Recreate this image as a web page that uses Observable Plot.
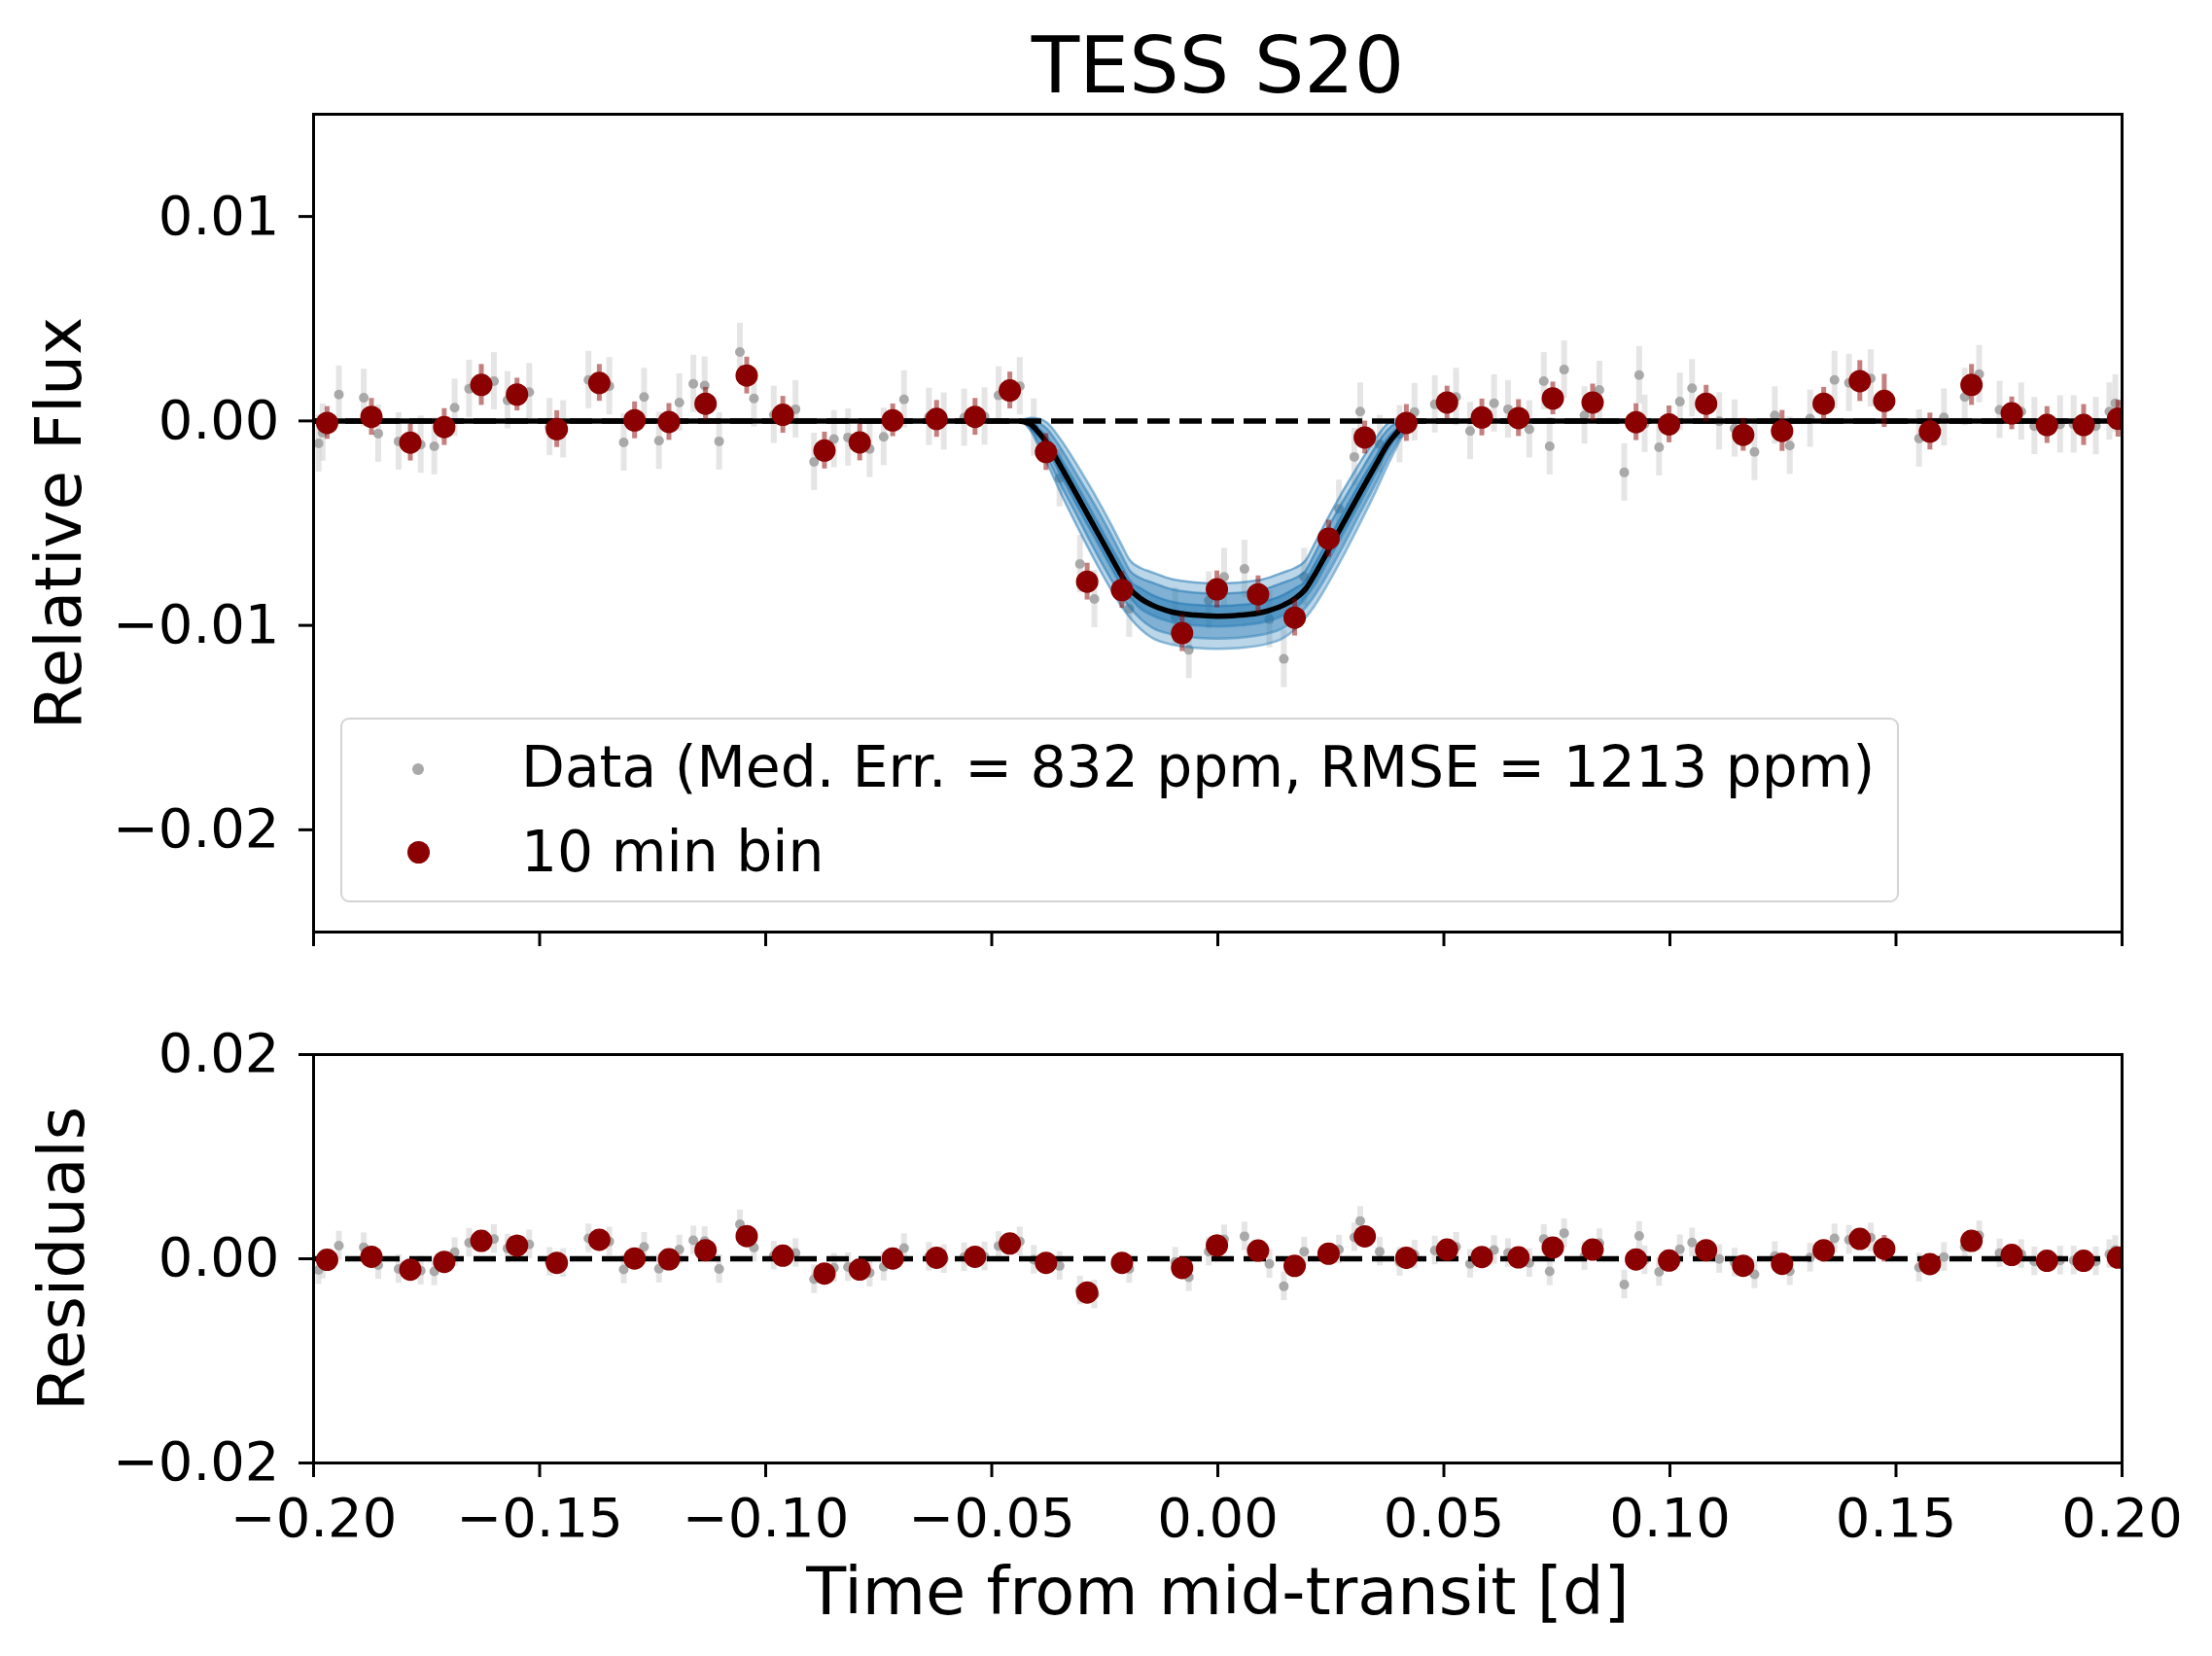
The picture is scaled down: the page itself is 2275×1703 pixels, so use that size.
<!DOCTYPE html>
<html><head><meta charset="utf-8">
<script src="https://cdn.jsdelivr.net/npm/d3@7"></script>
<script src="https://cdn.jsdelivr.net/npm/@observablehq/plot@0.6"></script>
<style>
body{margin:0;background:#fff;}
#wrap{position:relative;width:2275px;height:1703px;font-family:"DejaVu Sans",sans-serif;background:#fff;}
#top,#bot{position:absolute;left:0;}
#top{top:0}
#bot{top:1000px}
#legend{position:absolute;left:350px;top:738px;width:1603px;height:190px;border:2.7px solid #d4d4d4;border-radius:9px;background:rgba(255,255,255,0.8);box-sizing:border-box;z-index:5}
#legend .mk{position:absolute;border-radius:50%}
#legend .lt{position:absolute;left:184px;font-size:58.3px;line-height:58px;color:#000;white-space:nowrap}
</style>
</head><body>
<div id="wrap">
  <div id="top"></div>
  <div id="bot"></div>
  <div id="legend">
    <div class="mk" style="left:72px;top:45px;width:12px;height:12px;background:#a9a9a9"></div>
    <div class="lt" style="top:20px">Data (Med. Err. = 832 ppm, RMSE = 1213 ppm)</div>
    <div class="mk" style="left:67px;top:125px;width:23px;height:23px;background:#8b0000"></div>
    <div class="lt" style="top:107px">10 min bin</div>
  </div>
</div>
<script>
// ---------- data ----------
const xTicks = [-0.2,-0.15,-0.1,-0.05,0,0.05,0.1,0.15,0.2];
const yTicksTop = [-0.02,-0.01,0,0.01];
const yTicksBot = [-0.02,0,0.02];

// raw data (grey)
const gT = [-0.1989,-0.1980,-0.1944,-0.1889,-0.1857,-0.1812,-0.1763,-0.1733,-0.1688,-0.1656,
 -0.1601,-0.1571,-0.1523,-0.1478,-0.1448,-0.1392,-0.1346,-0.1314,-0.1269,-0.1236,
 -0.1191,-0.1160,-0.1135,-0.1103,-0.1057,-0.1026,-0.0982,-0.0934,-0.0893,-0.0849,
 -0.0818,-0.0770,-0.0739,-0.0694,-0.0639,-0.0606,-0.0561,-0.0516,-0.0485,-0.0438,
 -0.0407,-0.0350,-0.0305,-0.0273,-0.0196,-0.0094,-0.0064,-0.0020,0.0014,0.0059,
 0.0114,0.0146,0.0191,0.0268,0.0302,0.0315,0.0358,0.0402,0.0435,0.0480,
 0.0527,0.0558,0.0611,0.0642,0.0689,0.0721,0.0734,0.0766,0.0811,0.0844,
 0.0899,0.0932,0.0944,0.0976,0.1022,0.1049,0.1109,0.1143,0.1187,0.1232,
 0.1265,0.1310,0.1364,0.1396,0.1444,0.1551,0.1606,0.1652,0.1684,0.1729,
 0.1777,0.1806,0.1863,0.1893,0.1942,0.1972,0.1985];
const gF = [-0.0011,-0.00057,0.00129,0.00113,-0.00062,-0.0010,-0.00116,-0.00124,0.00065,0.00157,
 0.00194,0.00101,0.00141,-0.0003,-0.00041,0.0020,0.0017,-0.00105,0.00117,-0.00097,
 0.0009,0.00181,0.00173,-0.0010,0.00337,0.0011,0.0003,0.00057,-0.0020,-0.00089,
 -0.00081,-0.00137,-0.00078,0.00105,0.0002,-0.00003,0.00016,0.00022,0.00125,0.0017,
 -0.00032,-0.0028,-0.0070,-0.00871,-0.00919,-0.00957,-0.0112,-0.00878,-0.00763,-0.00724,
 -0.0097,-0.01164,-0.00763,-0.0043,-0.00176,0.00046,-0.00113,-0.00065,0.00043,0.00081,
 0.00117,-0.00049,0.00086,0.00057,-0.00041,0.00194,-0.00124,0.00251,0.00027,0.00152,
 -0.00252,0.00224,-0.00014,-0.00129,0.00094,0.0016,-0.00002,-0.00037,-0.00152,0.00027,
 -0.00121,0.00011,0.0020,0.00186,0.00208,-0.00086,0.00017,0.00117,0.00229,0.00054,
 0.00046,-0.00025,-0.00017,-0.00017,-0.00025,0.00046,0.00086];
const gR = [-0.0011,-0.00057,0.00129,0.00113,-0.00062,-0.0010,-0.00116,-0.00124,0.00065,0.00157,
 0.00194,0.00101,0.00141,-0.0003,-0.00041,0.0020,0.0017,-0.00105,0.00117,-0.00097,
 0.0009,0.00181,0.00173,-0.0010,0.00337,0.0011,0.0003,0.00057,-0.0020,-0.00089,
 -0.00081,-0.00137,-0.00078,0.00105,0.0002,-0.00003,0.00016,0.00022,0.00125,0.0017,
 -0.0001,-0.0007,-0.0031,-0.0035,-0.0010,-0.0003,-0.0018,0.0007,0.0019,0.0022,
 -0.0005,-0.0027,0.0007,0.0009,0.0021,0.0037,0.0007,-0.0003,0.0004,0.00081,
 0.00117,-0.00049,0.00086,0.00057,-0.00041,0.00194,-0.00124,0.00251,0.00027,0.00152,
 -0.00252,0.00224,-0.00014,-0.00129,0.00094,0.0016,-0.00002,-0.00037,-0.00152,0.00027,
 -0.00121,0.00011,0.0020,0.00186,0.00208,-0.00086,0.00017,0.00117,0.00229,0.00054,
 0.00046,-0.00025,-0.00017,-0.00017,-0.00025,0.00046,0.00086];
const gErr = 0.0014;

// 10 min bins (dark red)
const binT = [-0.1970,-0.1872,-0.1786,-0.1711,-0.1629,-0.1550,-0.1462,-0.1368,-0.1290,-0.1214,
 -0.1133,-0.1042,-0.0962,-0.0870,-0.0792,-0.0719,-0.0622,-0.0537,-0.0460,-0.0380,
 -0.0289,-0.0212,-0.0079,-0.0002,0.0089,0.0170,0.0245,0.0325,0.0417,0.0507,
 0.0584,0.0665,0.0741,0.0829,0.0925,0.0998,0.1080,0.1162,0.1248,0.1340,
 0.1420,0.1474,0.1575,0.1667,0.1756,0.1834,0.1915,0.1991];
const binF = [-0.0001,0.0002,-0.00106,-0.0003,0.00176,0.00129,-0.0004,0.00186,0.00003,-0.00005,
 0.00084,0.00222,0.0003,-0.00145,-0.00105,0.00003,0.0001,0.0002,0.00149,-0.00152,
 -0.00786,-0.00827,-0.01038,-0.00824,-0.00848,-0.00962,-0.00576,-0.00081,-0.0001,0.0009,
 0.00017,0.00014,0.0011,0.0009,-0.00006,-0.00017,0.00084,-0.00068,-0.00049,0.00084,
 0.00195,0.00098,-0.00052,0.00176,0.00037,-0.0002,-0.0002,0.00011];
const binR = [-0.0001,0.0002,-0.00106,-0.0003,0.00176,0.00129,-0.0004,0.00186,0.00003,-0.00005,
 0.00084,0.00222,0.0003,-0.00145,-0.00105,0.00003,0.0001,0.0002,0.00149,-0.0004,
 -0.0033,-0.0004,-0.0009,0.0013,0.0008,-0.0007,0.0005,0.0022,0.0001,0.0009,
 0.00017,0.00014,0.0011,0.0009,-0.00006,-0.00017,0.00084,-0.00068,-0.00049,0.00084,
 0.00195,0.00098,-0.00052,0.00176,0.00037,-0.0002,-0.0002,0.00011];
const binErr = [0.0008,0.0009,0.0009,0.0009,0.0010,0.0008,0.0009,0.0009,0.0009,0.0009,
 0.0008,0.0009,0.0009,0.0009,0.0009,0.0008,0.0009,0.0009,0.0009,0.0009,
 0.0009,0.0009,0.0009,0.0009,0.0009,0.0009,0.0009,0.0008,0.0009,0.0008,
 0.0009,0.0009,0.0008,0.0009,0.0009,0.0009,0.0009,0.0008,0.0010,0.0008,
 0.0010,0.0013,0.0009,0.0010,0.0008,0.0009,0.0010,0.0009];

// transit model (black) and posterior spread (blue)
const modelT = [-0.2,-0.044,-0.0415,-0.0395,-0.0377,-0.0348,-0.031,-0.0275,-0.024,-0.0212,-0.0195,-0.017,-0.0146,-0.01,-0.005,0,
 0.005,0.01,0.0146,0.017,0.0195,0.0212,0.024,0.0275,0.031,0.0348,0.0377,0.0395,0.0415,0.044,0.2];
const modelF = [0,0,-0.00015,-0.0006,-0.0011,-0.0022,-0.0037,-0.0051,-0.0065,-0.0076,-0.0082,-0.0087,-0.0090,-0.00935,-0.0095,-0.00955,
 -0.0095,-0.00935,-0.0090,-0.0087,-0.0082,-0.0076,-0.0065,-0.0051,-0.0037,-0.0022,-0.0011,-0.0006,-0.00015,0,0];
const bandOuter = [0,0,0.0003,0.0007,0.0010,0.0013,0.0015,0.0016,0.0016,0.0015,0.0014,0.0015,0.0016,0.0016,0.0016,0.0016,
 0.0016,0.0016,0.0016,0.0015,0.0014,0.0015,0.0016,0.0016,0.0015,0.0013,0.0010,0.0007,0.0003,0,0];
const bandMid = [0,0,0.0002,0.0005,0.0007,0.0009,0.0010,0.0011,0.0011,0.0010,0.0009,0.0010,0.0011,0.0011,0.0011,0.0011,
 0.0011,0.0011,0.0011,0.0010,0.0009,0.0010,0.0011,0.0011,0.0010,0.0009,0.0007,0.0005,0.0002,0,0];
const bandInner = [0,0,0.0001,0.0002,0.0003,0.0004,0.0005,0.0005,0.0005,0.0005,0.0004,0.0005,0.0005,0.0005,0.0005,0.0005,
 0.0005,0.0005,0.0005,0.0005,0.0004,0.0005,0.0005,0.0005,0.0005,0.0004,0.0003,0.0002,0.0001,0,0];

// ---------- tables ----------
const grey = gT.map((t,i)=>({t, f:gF[i], r:gR[i]}));
const bins = binT.map((t,i)=>({t, f:binF[i], r:binR[i], e:binErr[i]}));
const model = modelT.map((t,i)=>({t, f:modelF[i], w1:bandOuter[i], w2:bandMid[i], w3:bandInner[i]}));

const FONT = "'DejaVu Sans', sans-serif";
const BLUE = "#1f77b4";
const DARKRED = "#8b0000";
const fmt = d3.format(".2f");

function bandMarks(key, op){
  return [
    Plot.areaY(model, {x:"t", y1:d=>d.f-d[key], y2:d=>d.f+d[key], fill:BLUE, fillOpacity:op, curve:"monotone-x", clip:true}),
    Plot.line(model, {x:"t", y:d=>d.f-d[key], stroke:BLUE, strokeOpacity:0.5, strokeWidth:2.5, curve:"monotone-x", clip:true}),
    Plot.line(model, {x:"t", y:d=>d.f+d[key], stroke:BLUE, strokeOpacity:0.5, strokeWidth:2.5, curve:"monotone-x", clip:true})
  ];
}

const topPlot = Plot.plot({
  width:2275, height:1000,
  marginLeft:322, marginRight:93, marginTop:117, marginBottom:42,
  style:{fontFamily:FONT, fontSize:"56px", color:"black", background:"transparent", overflow:"visible"},
  x:{domain:[-0.2,0.2]},
  y:{domain:[-0.025,0.015]},
  marks:[
    Plot.ruleX(grey, {x:"t", y1:d=>d.f-gErr, y2:d=>d.f+gErr, stroke:"#d3d3d3", strokeOpacity:0.6, strokeWidth:6, clip:true}),
    Plot.dot(grey, {x:"t", y:"f", r:5, fill:"#a9a9a9", stroke:"none", clip:true}),
    ...bandMarks("w1", 0.3), ...bandMarks("w2", 0.38), ...bandMarks("w3", 0.45),
    Plot.ruleY([0], {stroke:"black", strokeWidth:5.5, strokeDasharray:"23,10"}),
    Plot.line(model, {x:"t", y:"f", stroke:"black", strokeWidth:5.5, curve:"monotone-x", clip:true}),
    Plot.ruleX(bins, {x:"t", y1:d=>d.f-d.e, y2:d=>d.f+d.e, stroke:DARKRED, strokeOpacity:0.5, strokeWidth:5, clip:true}),
    Plot.dot(bins, {x:"t", y:"f", r:11.5, fill:DARKRED, stroke:"none", clip:true}),
    Plot.frame({stroke:"black", strokeWidth:3}),
    Plot.axisY({ticks:yTicksTop, tickFormat:fmt, tickSize:15, tickPadding:20, strokeWidth:3, fontSize:56, label:null}),
    Plot.axisX({ticks:xTicks, tickFormat:()=>"", tickSize:15, strokeWidth:3, label:null}),
    Plot.text(["TESS S20"], {frameAnchor:"top", lineAnchor:"middle", textAnchor:"middle", dy:-48, fontSize:81}),
    Plot.text(["Relative Flux"], {frameAnchor:"left", lineAnchor:"middle", textAnchor:"middle", rotate:-90, dx:-261, fontSize:66})
  ]
});
document.getElementById("top").appendChild(topPlot);

const botPlot = Plot.plot({
  width:2275, height:703,
  marginLeft:322, marginRight:93, marginTop:84, marginBottom:199,
  style:{fontFamily:FONT, fontSize:"56px", color:"black", background:"transparent", overflow:"visible"},
  x:{domain:[-0.2,0.2]},
  y:{domain:[-0.02,0.02]},
  marks:[
    Plot.ruleX(grey, {x:"t", y1:d=>d.r-gErr, y2:d=>d.r+gErr, stroke:"#d3d3d3", strokeOpacity:0.6, strokeWidth:6, clip:true}),
    Plot.dot(grey, {x:"t", y:"r", r:5, fill:"#a9a9a9", stroke:"none", clip:true}),
    Plot.ruleY([0], {stroke:"black", strokeWidth:5.5, strokeDasharray:"23,10"}),
    Plot.ruleX(bins, {x:"t", y1:d=>d.r-d.e, y2:d=>d.r+d.e, stroke:DARKRED, strokeOpacity:0.5, strokeWidth:5, clip:true}),
    Plot.dot(bins, {x:"t", y:"r", r:11.5, fill:DARKRED, stroke:"none", clip:true}),
    Plot.frame({stroke:"black", strokeWidth:3}),
    Plot.axisY({ticks:yTicksBot, tickFormat:fmt, tickSize:15, tickPadding:20, strokeWidth:3, fontSize:56, label:null}),
    Plot.axisX({ticks:xTicks, tickFormat:fmt, tickSize:15, tickPadding:21, strokeWidth:3, fontSize:56, label:null}),
    Plot.text(["Residuals"], {frameAnchor:"left", lineAnchor:"middle", textAnchor:"middle", rotate:-90, dx:-258, fontSize:66}),
    Plot.text(["Time from mid-transit [d]"], {frameAnchor:"bottom", lineAnchor:"middle", textAnchor:"middle", dy:134, fontSize:67})
  ]
});
document.getElementById("bot").appendChild(botPlot);
</script>
</body></html>
